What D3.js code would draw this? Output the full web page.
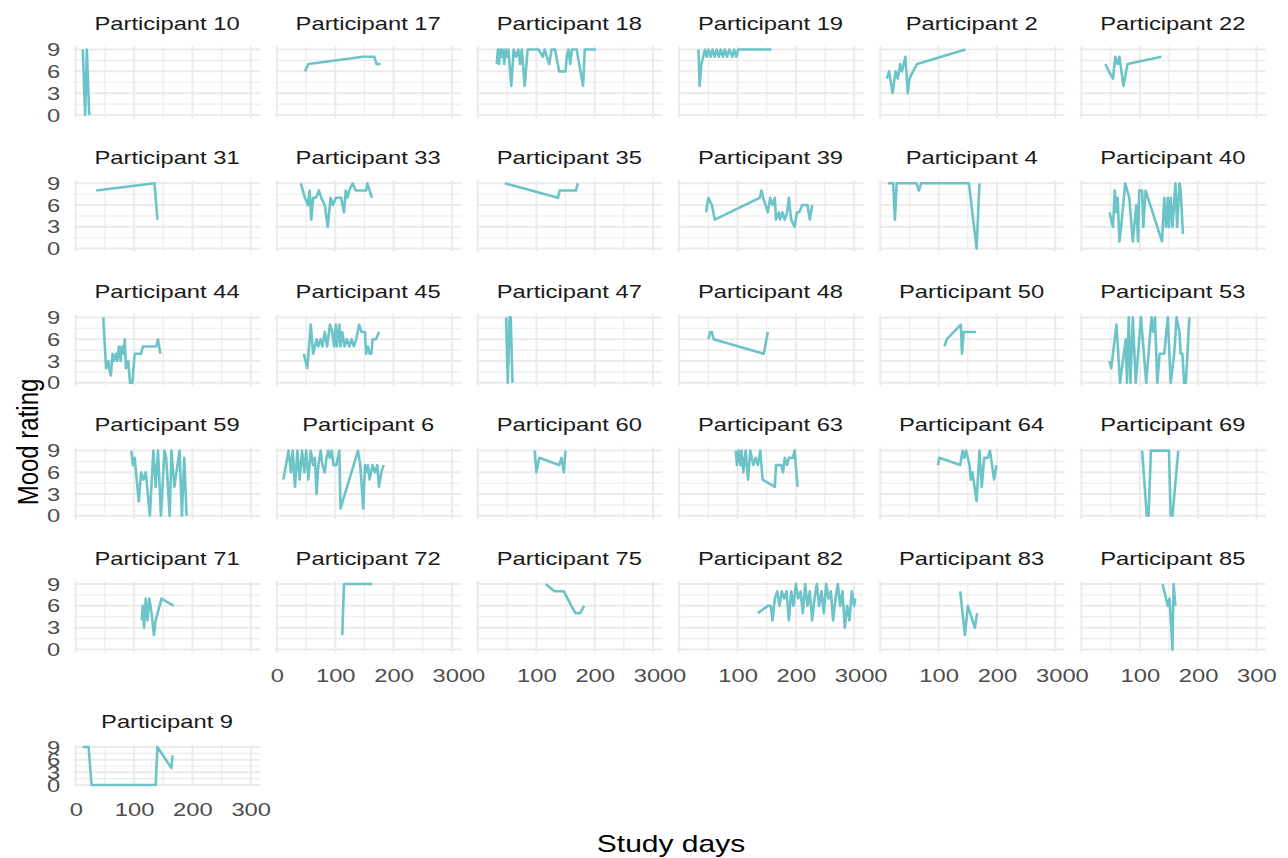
<!DOCTYPE html>
<html>
<head>
<meta charset="utf-8">
<script src="https://cdn.jsdelivr.net/npm/d3@7"></script>
<style>
  body { margin: 0; background: #ffffff; }
  text { font-family: "Liberation Sans", Arial, Helvetica, sans-serif; }
</style>
</head>
<body>
<svg id="chart" width="1288" height="858"></svg>
<script>
// Axis ticks
const xTicks = [0, 100, 200, 300];
const xMinor = [50, 150, 250];
const yTicks = [0, 3, 6, 9];
const yMinor = [1.5, 4.5, 7.5];

// Daily mood ratings per participant: [study day, mood rating]
const p10 = [[12,9],[16,0],[19,9],[23,0]];
const p17 = [[48,6],[54,7],[148,8],[167,8],[171,7],[178,7]];
const p18 = [[32,7],[34,9],[36,7],[38,9],[40,8],[42,9],[45,7],[47,9],[50,8],[52,9],[57,4],[61,9],[65,8],[69,9],[72,7],[75,9],[80,4],[85,9],[94,9],[104,9],[111,8],[114,9],[118,8],[122,7],[126,9],[132,9],[139,6],[145,6],[150,6],[152,8],[155,9],[158,7],[161,9],[169,9],[180,4],[183,9],[194,9],[202,9]];
const p19 = [[33,9],[35,4],[38,7],[41,8],[44,9],[47,8],[50,9],[54,8],[57,9],[61,8],[64,9],[68,8],[71,9],[75,8],[78,9],[82,8],[86,9],[91,8],[94,9],[98,8],[101,9],[120,9],[140,9],[158,9]];
const p2  = [[11,5],[15,6],[21,3],[26,6],[30,5],[34,7],[37,6],[43,8],[47,3],[50,5],[56,6],[63,7],[146,9]];
const p22 = [[41,7],[47,6],[54,5],[58,8],[62,7],[65,8],[72,4],[79,7],[137,8]];
const p31 = [[35,8],[135,9],[140,4]];
const p33 = [[41,9],[48,7],[53,6],[56,8],[59,4],[62,7],[67,7],[72,8],[76,7],[82,6],[87,3],[92,7],[96,6],[101,7],[110,7],[115,5],[118,8],[121,7],[124,8],[130,9],[135,8],[153,8],[155,9],[163,7]];
const p35 = [[46,9],[137,7],[140,8],[168,8],[171,9]];
const p39 = [[46,5],[50,7],[56,6],[61,4],[138,7],[141,8],[144,7],[152,5],[156,7],[160,6],[164,7],[166,4],[171,5],[173,4],[177,5],[181,4],[185,5],[188,7],[192,4],[198,3],[202,5],[206,5],[211,6],[220,6],[224,4],[228,6]];
const p4  = [[13,9],[22,9],[25,4],[28,9],[62,9],[66,8],[70,9],[152,9],[165,0],[170,9]];
const p40 = [[48,5],[54,3],[57,8],[60,5],[62,7],[65,1],[68,3],[75,9],[82,7],[88,1],[94,6],[97,1],[99,8],[104,8],[106,3],[110,8],[138,1],[142,7],[145,3],[148,7],[150,3],[153,7],[156,3],[161,9],[164,3],[168,9],[170,8],[174,2]];
const p44 = [[47,9],[52,2],[56,3],[57,2],[60,1],[63,4],[65,3],[69,4],[71,3],[74,5],[77,3],[79,5],[82,4],[84,6],[86,2],[90,3],[93,0],[97,0],[101,4],[112,4],[115,5],[138,5],[141,6],[145,4]];
const p45 = [[46,4],[52,2],[58,8],[62,4],[65,5],[68,6],[71,5],[75,6],[78,5],[82,7],[86,5],[91,8],[95,7],[98,5],[101,8],[103,5],[107,8],[109,5],[112,7],[116,5],[120,6],[124,5],[128,6],[132,5],[136,6],[141,8],[145,7],[151,7],[153,4],[156,5],[159,4],[162,4],[164,6],[170,6],[175,7]];
const p47 = [[48,9],[51,0],[54,9],[56,9],[59,0]];
const p48 = [[50,6],[53,7],[56,7],[59,6],[145,4],[152,7]];
const p50 = [[110,5],[114,6],[138,8],[140,4],[143,7],[164,7]];
const p53 = [[48,3],[51,2],[60,8],[66,0],[71,3],[76,6],[78,0],[81,9],[84,0],[88,9],[93,0],[97,4],[102,9],[111,0],[120,9],[123,7],[126,9],[130,0],[134,4],[138,4],[142,4],[148,9],[153,0],[159,4],[163,9],[168,7],[170,4],[173,4],[176,0],[179,0],[185,9]];
const p59 = [[95,9],[98,7],[101,8],[108,2],[112,6],[116,5],[120,6],[127,0],[133,9],[137,4],[141,9],[146,0],[152,9],[155,8],[161,0],[164,9],[169,4],[178,9],[182,0],[186,8],[190,0]];
const p6  = [[11,5],[20,9],[24,6],[27,9],[31,4],[35,9],[39,5],[43,9],[47,6],[50,9],[54,5],[58,9],[62,7],[65,8],[68,3],[71,7],[75,9],[78,7],[82,6],[85,8],[88,9],[91,8],[94,9],[97,7],[102,7],[107,9],[109,1],[139,9],[143,7],[148,1],[151,7],[153,6],[156,7],[159,5],[164,7],[168,6],[172,7],[175,4],[179,6],[183,7]];
const p60 = [[97,9],[100,6],[105,8],[139,7],[143,8],[147,6],[150,9]];
const p63 = [[97,9],[99,7],[102,9],[105,7],[107,9],[110,6],[114,9],[118,5],[122,9],[127,7],[131,8],[135,7],[139,9],[143,5],[164,4],[166,7],[175,7],[178,6],[181,8],[185,7],[188,8],[195,8],[198,9],[203,4]];
const p64 = [[99,7],[101,8],[137,7],[141,9],[144,8],[147,9],[153,7],[155,5],[158,6],[165,2],[170,9],[174,4],[178,8],[184,8],[188,9],[195,5],[199,7]];
const p69 = [[104,9],[112,0],[115,0],[119,9],[150,9],[153,0],[156,0],[166,9]];
const p71 = [[113,4],[115,6],[117,3],[120,7],[123,4],[126,7],[130,5],[134,2],[137,4],[147,7],[168,6]];
const p72 = [[112,2],[115,9],[140,9],[163,9]];
const p75 = [[116,9],[131,8],[147,8],[160,6],[167,5],[175,5],[182,6]];
const p82 = [[135,5],[152,6],[157,6],[160,4],[164,7],[168,8],[172,6],[176,8],[180,7],[184,8],[188,4],[192,8],[196,6],[200,9],[204,7],[208,8],[212,5],[216,9],[220,6],[224,8],[228,4],[232,7],[236,9],[240,6],[244,8],[248,5],[252,9],[256,7],[260,8],[264,4],[268,7],[272,9],[276,6],[280,8],[284,3],[288,6],[292,4],[296,8],[300,6],[302,7]];
const p83 = [[137,8],[145,2],[150,6],[162,3],[166,5]];
const p85 = [[139,9],[148,6],[151,7],[156,0],[158,9],[161,6]];
const p9  = [[12,9],[22,9],[27,0],[137,0],[140,9],[164,4],[166,7]];

// Facet order (sorted as text labels)
const participants = ["10","17","18","19","2","22","31","33","35","39","4","40","44","45","47","48","50","53","59","6","60","63","64","69","71","72","75","82","83","85","9"];
const series = {"10":p10,"17":p17,"18":p18,"19":p19,"2":p2,"22":p22,"31":p31,"33":p33,"35":p35,"39":p39,"4":p4,"40":p40,"44":p44,"45":p45,"47":p47,"48":p48,"50":p50,"53":p53,"59":p59,"6":p6,"60":p60,"63":p63,"64":p64,"69":p69,"71":p71,"72":p72,"75":p75,"82":p82,"83":p83,"85":p85,"9":p9};

// ---- layout ----
const nCol = 6;
const colLeft0 = 74.05, colStep = 201.14, panelW = 186;
// pixel rows of rating 9 and rating 0 for each facet row
const rowY9 = [49.5, 183.3, 317.4, 450.6, 584.0, 747.0];
const rowY0 = [115.0, 248.6, 382.8, 515.8, 649.6, 785.0];
const xDomain = [-3, 316];
const yDomain = [-0.45, 9.45];
const lineColor = "#6cc4c8";
const gridColor = "#ebebeb";
const textStretch = 1.25;

const svg = d3.select("#chart");

function yScaleFor(r) {
  const unit = (rowY0[r] - rowY9[r]) / 9;
  return d3.scaleLinear().domain(yDomain)
    .range([rowY0[r] + 0.45 * unit, rowY9[r] - 0.45 * unit]);
}
function xScaleFor(c) {
  const l = colLeft0 + c * colStep;
  return d3.scaleLinear().domain(xDomain).range([l, l + panelW]);
}

const line = d3.line();

participants.forEach((id, i) => {
  const r = Math.floor(i / nCol), c = i % nCol;
  const x = xScaleFor(c), y = yScaleFor(r);
  const g = svg.append("g").attr("class", "panel");
  const [x0, x1] = x.range();
  const [yb, yt] = y.range();

  // minor grid
  g.selectAll(".hminor").data(yMinor).join("line")
    .attr("x1", x0).attr("x2", x1).attr("y1", d => y(d)).attr("y2", d => y(d))
    .attr("stroke", gridColor).attr("stroke-width", 1.1);
  g.selectAll(".vminor").data(xMinor).join("line")
    .attr("y1", yb).attr("y2", yt).attr("x1", d => x(d)).attr("x2", d => x(d))
    .attr("stroke", gridColor).attr("stroke-width", 1.1);
  // major grid
  g.selectAll(".hmajor").data(yTicks).join("line")
    .attr("x1", x0).attr("x2", x1).attr("y1", d => y(d)).attr("y2", d => y(d))
    .attr("stroke", gridColor).attr("stroke-width", 2);
  g.selectAll(".vmajor").data(xTicks).join("line")
    .attr("y1", yb).attr("y2", yt).attr("x1", d => x(d)).attr("x2", d => x(d))
    .attr("stroke", gridColor).attr("stroke-width", 2);

  // mood line
  g.append("path")
    .attr("d", line(series[id].map(d => [x(d[0]), y(d[1])])))
    .attr("fill", "none").attr("stroke", lineColor)
    .attr("stroke-width", 2.6).attr("stroke-linejoin", "round");

  // strip label
  g.append("text")
    .attr("transform", `translate(${(x0 + x1) / 2},${rowY9[r] - 19.5}) scale(${textStretch},1)`)
    .attr("text-anchor", "middle").attr("font-size", 19).attr("fill", "#1a1a1a")
    .text("Participant " + id);

  // left axis on first column
  if (c === 0) {
    const ax = g.append("g").attr("transform", `translate(${x0},0)`)
      .call(d3.axisLeft(y).tickValues(yTicks).tickSize(0).tickPadding(11));
    ax.select(".domain").remove();
    ax.selectAll("text").attr("font-size", 19).attr("fill", "#4d4d4d")
      .attr("font-family", null)
      .attr("transform", `scale(${textStretch},1)`);
  }
  // bottom axis on the lowest panel of each column
  const below = i + nCol;
  if (below >= participants.length) {
    const ax = g.append("g").attr("transform", `translate(0,${yb})`)
      .call(d3.axisBottom(x).tickValues(xTicks).tickSize(0).tickPadding(16));
    ax.select(".domain").remove();
    ax.selectAll("text").attr("font-size", 19).attr("fill", "#4d4d4d")
      .attr("font-family", null)
      .attr("transform", `scale(${textStretch},1)`);
  }
});

// axis titles
svg.append("text")
  .attr("transform", `translate(671,852) scale(${textStretch},1)`)
  .attr("text-anchor", "middle").attr("font-size", 24).attr("fill", "#000")
  .text("Study days");
svg.append("text")
  .attr("transform", `translate(38,442) scale(${textStretch},1) rotate(-90)`)
  .attr("text-anchor", "middle").attr("font-size", 24).attr("fill", "#000")
  .text("Mood rating");
</script>
</body>
</html>
